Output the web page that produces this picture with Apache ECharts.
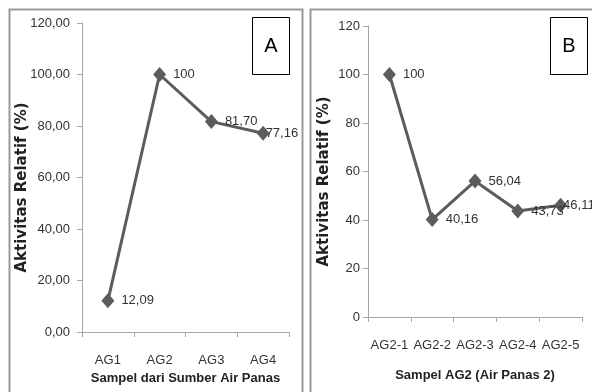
<!DOCTYPE html>
<html>
<head>
<meta charset="utf-8">
<script src="https://cdn.jsdelivr.net/npm/echarts@6/dist/echarts.min.js"></script>
<style>
  html, body { margin: 0; padding: 0; background: #fff; }
  #chart { width: 592px; height: 392px; }
</style>
</head>
<body>
<div id="chart"></div>
<script>
// panel A
const catsA = ['AG1', 'AG2', 'AG3', 'AG4']
const valsA = [12.09, 100, 81.70, 77.16]
// panel B
const catsB = ['AG2-1', 'AG2-2', 'AG2-3', 'AG2-4', 'AG2-5']
const valsB = [100, 40.16, 56.04, 43.73, 46.11]
const yTicks = [0, 20, 40, 60, 80, 100, 120]

const sans = '"Liberation Sans", Arial, sans-serif'
const lineColor = '#5c5c5c'
const axisColor = '#a6a6a6'

// 12.09 -> "12,09", 100 -> "100"
function fmt(v) {
  return Number.isInteger(v) ? String(v) : v.toFixed(2).replace('.', ',')
}

function points(vals) {
  return vals.map((v, i) => {
    const last = i === vals.length - 1
    // last label sits on top of its marker, like the original
    return {
      value: v,
      label: { distance: last ? -4 : 7 }
    }
  })
}

function xAxis(idx, cats, name, gap) {
  return {
    type: 'category',
    gridIndex: idx,
    data: cats,
    boundaryGap: true,
    name: name,
    nameLocation: 'middle',
    nameGap: gap,
    nameMoveOverlap: false,
    nameTextStyle: { fontFamily: sans, fontWeight: 'bold', fontSize: 13, color: '#222', verticalAlign: 'top' },
    axisLine: { lineStyle: { color: axisColor, width: 1 } },
    axisTick: { show: true, length: 5, lineStyle: { color: axisColor } },
    axisLabel: { interval: 0, margin: 22, fontFamily: sans, fontSize: 13, color: '#333' }
  }
}

function yAxis(idx, gap, margin, labelFmt) {
  return {
    type: 'value',
    gridIndex: idx,
    min: yTicks[0],
    max: yTicks[yTicks.length - 1],
    interval: 20,
    name: 'Aktivitas Relatif (%)',
    nameLocation: 'middle',
    nameRotate: 90,
    nameGap: gap,
    nameMoveOverlap: false,
    nameTextStyle: {
      fontFamily: '"DejaVu Sans", sans-serif', fontWeight: 'bold', fontSize: 15, color: '#222',
      padding: [0, 20, 0, 0]
    },
    splitLine: { show: false },
    axisLine: { show: true, lineStyle: { color: axisColor, width: 1 } },
    axisTick: { show: true, length: 5, lineStyle: { color: axisColor } },
    axisLabel: { margin: margin, fontFamily: sans, fontSize: 13, color: '#333', formatter: labelFmt }
  }
}

function series(idx, vals) {
  return {
    type: 'line',
    xAxisIndex: idx,
    yAxisIndex: idx,
    data: points(vals),
    symbol: 'diamond',
    symbolSize: [13, 15],
    showAllSymbol: true,
    lineStyle: { color: lineColor, width: 3 },
    itemStyle: { color: lineColor },
    label: {
      show: true,
      position: 'right',
      fontFamily: sans,
      fontSize: 13,
      color: '#333',
      formatter: p => fmt(p.value)
    },
    animation: false
  }
}

function box(x, y, w, h, txt) {
  return {
    type: 'group',
    children: [
      { type: 'rect', shape: { x: x, y: y, width: w, height: h },
        style: { fill: '#fff', stroke: '#000', lineWidth: 1 } },
      { type: 'text', x: x + w / 2, y: y + h / 2,
        style: { text: txt, font: '20px ' + sans, fill: '#000', align: 'center', verticalAlign: 'middle' } }
    ]
  }
}

const chart = echarts.init(document.getElementById('chart'))
chart.setOption({
  backgroundColor: '#fff',
  grid: [
    { left: 82, top: 23, width: 207, height: 309 },
    { left: 368, top: 26, width: 214, height: 291 }
  ],
  xAxis: [
    xAxis(0, catsA, 'Sampel dari Sumber Air Panas', 40),
    xAxis(1, catsB, 'Sampel AG2 (Air Panas 2)', 52)
  ],
  yAxis: [
    yAxis(0, 52, 12, v => v.toFixed(2).replace('.', ',')),
    yAxis(1, 36, 8, v => String(v))
  ],
  series: [series(0, valsA), series(1, valsB)],
  graphic: [
    { type: 'rect', shape: { x: 9.5, y: 9.5, width: 293, height: 400 },
      style: { fill: 'none', stroke: '#9a9a9a', lineWidth: 2 }, z: -1 },
    { type: 'rect', shape: { x: 310.5, y: 9.5, width: 300, height: 400 },
      style: { fill: 'none', stroke: '#9a9a9a', lineWidth: 2 }, z: -1 },
    box(252.5, 17.5, 37, 57, 'A'),
    box(550.5, 17.5, 37, 57, 'B')
  ]
})
</script>
</body>
</html>
